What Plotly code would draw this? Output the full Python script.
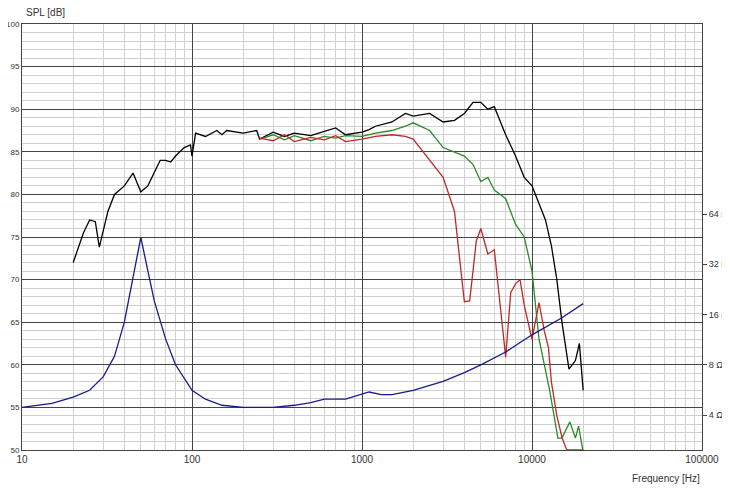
import plotly.graph_objects as go

# SPL on-axis (black)
spl_f = [20, 23, 25, 27, 28.5, 32, 35, 40, 45, 50, 55, 60, 65, 70, 75, 80, 90, 98, 100, 105,
         120, 140, 150, 160, 200, 240, 250, 300, 350, 400, 500, 600, 700, 800, 1000, 1100,
         1200, 1500, 1800, 2000, 2500, 3000, 3500, 4000, 4500, 5000, 5500, 6000, 7000, 8000,
         9000, 10000, 11000, 12000, 13000, 14000, 15000, 16500, 18000, 19000, 20000]
spl_db = [72, 75.5, 77, 76.8, 73.8, 78, 80, 81, 82.5, 80.3, 81, 82.5, 84, 84, 83.8, 84.5, 85.5, 85.8, 84.5, 87.2,
          86.8, 87.5, 87, 87.5, 87.2, 87.5, 86.5, 87.3, 86.8, 87.2, 86.9, 87.4, 87.8, 87.0, 87.3, 87.6,
          88, 88.5, 89.5, 89.2, 89.5, 88.5, 88.7, 89.5, 90.8, 90.8, 90, 90.3, 87, 84.5,
          82, 81, 79, 77, 74, 70, 65, 59.5, 60.5, 62.5, 57]

# SPL off-axis (green)
green_f = [250, 300, 350, 400, 500, 600, 700, 800, 1000, 1200, 1500, 1800, 2000, 2500, 3000, 3500,
           4000, 4500, 5000, 5500, 6000, 7000, 8000, 9000, 10000, 11000, 12700, 14200, 15000,
           16700, 18000, 18800, 19900]
green_db = [86.5, 87, 86.4, 86.9, 86.3, 86.8, 86.6, 86.9, 86.8, 87.2, 87.5, 88, 88.4, 87.5, 85.5, 85,
            84.5, 83.5, 81.5, 82, 80.5, 79.5, 76.5, 75, 71, 63, 57, 51.4, 51.4,
            53.3, 51.4, 52.8, 50]

# SPL off-axis (red)
red_f = [250, 300, 350, 400, 500, 600, 700, 800, 1000, 1200, 1500, 1800, 2000, 2500, 3000, 3500,
         4000, 4300, 4700, 5000, 5500, 6000, 6500, 7000, 7500, 8000, 8500, 9000, 10000, 11000,
         11800, 12500, 13000, 14000, 15000, 16000, 20000]
red_db = [86.6, 86.3, 87, 86.2, 86.7, 86.4, 86.9, 86.2, 86.5, 86.8, 87, 86.8, 86.5, 84, 82, 78,
          67.4, 67.5, 74.5, 76, 73, 73.5, 67, 60.9, 68.5, 69.5, 70, 67, 63, 67.3,
          64, 62, 58, 54, 51.5, 50, 50]

# impedance (blue), ohms
imp_f = [10, 15, 20, 25, 30, 35, 40, 45, 50, 55, 60, 70, 80, 100, 120, 150, 200, 300, 400, 500,
         600, 800, 1000, 1100, 1300, 1500, 2000, 3000, 4000, 5000, 7000, 10000, 15000, 20000]
imp_ohm = [4.45, 4.70, 5.12, 5.63, 6.77, 8.99, 14.4, 26.0, 46.4, 29.2, 19.3, 11.4, 8.0, 5.63, 4.98, 4.58,
           4.45, 4.45, 4.58, 4.75, 4.98, 4.98, 5.31, 5.50, 5.31, 5.31, 5.63, 6.37, 7.19, 8.0, 9.55, 12.1,
           15.3, 18.6]

x_major = [10, 100, 1000, 10000, 100000]
x_minor = [m * d for d in [10, 100, 1000, 10000] for m in range(2, 10)]
imp_ticks = [4, 8, 16, 32, 64]

fig = go.Figure()
fig.add_trace(go.Scatter(x=imp_f, y=imp_ohm, mode='lines', yaxis='y2',
                         line=dict(color='#1a1a8c', width=1.3)))
fig.add_trace(go.Scatter(x=spl_f, y=spl_db, mode='lines', line=dict(color='black', width=1.3)))
fig.add_trace(go.Scatter(x=green_f, y=green_db, mode='lines', line=dict(color='#2a8a2a', width=1.3)))
fig.add_trace(go.Scatter(x=red_f, y=red_db, mode='lines', line=dict(color='#c02828', width=1.3)))

# page body has an 8px margin, so shift the plot area up/left to match
fig.update_layout(
    width=730, height=490,
    margin=dict(l=14, r=36, t=16, b=48),
    paper_bgcolor='white', plot_bgcolor='white',
    showlegend=False,
    font=dict(family='Liberation Sans, Arial', size=10, color='#333'),
    xaxis=dict(type='log', range=[1, 5], tickvals=x_major, ticktext=[str(v) for v in x_major],
               automargin=False, ticklen=0,
               showgrid=True, gridcolor='#444', gridwidth=1, zeroline=False,
               showline=True, linecolor='#444', mirror=True,
               minor=dict(tickvals=x_minor, showgrid=True, gridcolor='#d0d0d0')),
    yaxis=dict(range=[50, 100], dtick=5, showgrid=True, gridcolor='#444', zeroline=False,
               automargin=False, ticklen=0, tickfont=dict(size=8, family='Liberation Sans Narrow, Arial Narrow, Liberation Sans'),
               ticklabelstandoff=0,
               showline=True, linecolor='#444', mirror=True,
               minor=dict(dtick=1, showgrid=True, gridcolor='#d0d0d0')),
    yaxis2=dict(type='log', range=[0.393, 2.944], overlaying='y', side='right', automargin=False,
                tickvals=imp_ticks, ticktext=[f'{v} Ω' for v in imp_ticks], tickfont=dict(size=9),
                showgrid=False, zeroline=False, ticks='outside', ticklen=4, tickcolor='#444'),
    annotations=[
        dict(text='SPL [dB]', xref='paper', yref='paper', x=0.0, y=1.0, xanchor='left',
             yanchor='bottom', yshift=4, xshift=2, showarrow=False),
        dict(text='Frequency [Hz]', xref='paper', yref='paper', x=1.0, y=0, xanchor='right',
             yanchor='top', yshift=-21, showarrow=False),
    ],
)

fig.write_html("out.html")
